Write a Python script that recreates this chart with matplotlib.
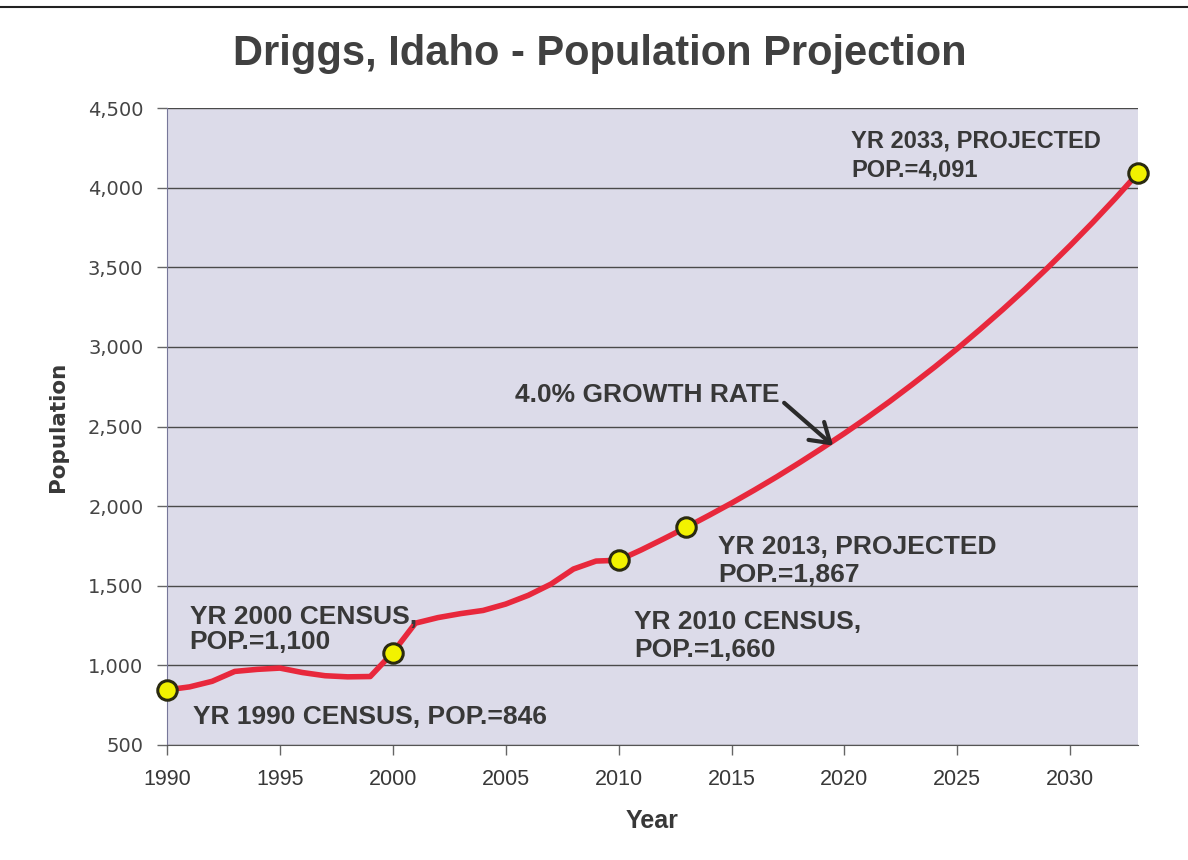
import matplotlib
matplotlib.use("Agg")
import matplotlib.pyplot as plt
from matplotlib.lines import Line2D

# ---- data ----
years = [1990, 1991, 1992, 1993, 1994, 1995, 1996, 1997, 1998, 1999,
         2000, 2001, 2002, 2003, 2004, 2005, 2006, 2007, 2008, 2009,
         2010, 2011, 2012, 2013, 2014, 2015, 2016, 2017, 2018, 2019,
         2020, 2021, 2022, 2023, 2024, 2025, 2026, 2027, 2028, 2029,
         2030, 2031, 2032, 2033]
population = [846, 865, 900, 962, 975, 983, 955, 935, 928, 930,
              1080, 1265, 1300, 1325, 1345, 1385, 1440, 1510, 1605, 1655,
              1660, 1725, 1795, 1867, 1942, 2019, 2100, 2184, 2272, 2363,
              2457, 2555, 2657, 2764, 2874, 2989, 3109, 3233, 3362, 3497,
              3637, 3782, 3933, 4091]
marker_years = [1990, 2000, 2010, 2013, 2033]
marker_pops = [846, 1080, 1660, 1867, 4091]
x_ticks = [1990, 1995, 2000, 2005, 2010, 2015, 2020, 2025, 2030]
y_ticks = [500, 1000, 1500, 2000, 2500, 3000, 3500, 4000, 4500]
y_tick_labels = ["500", "1,000", "1,500", "2,000", "2,500", "3,000", "3,500", "4,000", "4,500"]

title = "Driggs, Idaho - Population Projection"
annotations = [
    ("YR 2033, PROJECTED\nPOP.=4,091", 2020.3, 4200, 17, 1.32),
    ("YR 2013, PROJECTED\nPOP.=1,867", 2014.4, 1655, 19, 1.2),
    ("YR 2010 CENSUS,\nPOP.=1,660", 2010.7, 1185, 19, 1.17),
    ("YR 2000 CENSUS,\nPOP.=1,100", 1991.0, 1225, 19, 1.1),
    ("YR 1990 CENSUS, POP.=846", 1991.15, 676, 19, 1.1),
]

TXT = "#383838"
SANS = ["Liberation Sans", "DejaVu Sans"]

fig = plt.figure(figsize=(11.88, 8.60), dpi=100, facecolor="white")
ax = fig.add_axes([167/1188, 1 - 745/860, 971/1188, 637/860])
ax.set_facecolor("#dcdbe9")

ax.set_xlim(1990, 2033)
ax.set_ylim(500, 4500)
ax.set_xticks(x_ticks)
ax.set_xticklabels([str(v) for v in x_ticks], fontfamily=SANS, fontsize=15.5, color=TXT)
ax.set_yticks(y_ticks)
ax.set_yticklabels(y_tick_labels, fontfamily="DejaVu Sans", fontsize=14, color="#444444")
ax.tick_params(axis="both", direction="out", length=7, width=1, color="#666666")
ax.tick_params(axis="x", pad=10)
ax.tick_params(axis="y", pad=10)

ax.grid(axis="y", color="#4a4a4a", linewidth=1.0)
ax.set_axisbelow(True)
for s in ["top", "right"]:
    ax.spines[s].set_visible(False)
ax.spines["left"].set_color("#777799")
ax.spines["bottom"].set_color("#555555")

ax.plot(years, population, color="#e8283c", linewidth=4, solid_joinstyle="round",
        solid_capstyle="round", zorder=3)
ax.plot(marker_years, marker_pops, linestyle="none", marker="o", markersize=14,
        markerfacecolor="#f2f200", markeredgecolor="#2a2a10", markeredgewidth=2.2,
        zorder=4, clip_on=False)

for txt, x, y, fs, ls in annotations:
    ax.text(x, y, txt, fontfamily=SANS, fontweight="bold", fontsize=fs,
            color=TXT, ha="left", va="center", linespacing=ls, zorder=5)

ax.annotate("4.0% GROWTH RATE", xy=(2019.5, 2380), xytext=(2005.4, 2698),
            fontfamily=SANS, fontweight="bold", fontsize=19, color=TXT,
            ha="left", va="center", zorder=5,
            arrowprops=dict(arrowstyle="->,head_length=0.7,head_width=0.45",
                            color="#2a2a2a", lw=3, shrinkA=2, shrinkB=0,
                            relpos=(1.0, 0.35)))

ax.set_xlabel("Year", fontfamily=SANS, fontweight="bold", fontsize=18, color=TXT, labelpad=14)
ax.set_ylabel("Population", fontfamily="DejaVu Sans", fontweight="bold", fontsize=15.5,
              color=TXT, labelpad=14)

fig.text(600/1188, 1 - 54/860, title, fontfamily=SANS, fontweight="bold", fontsize=30,
         color="#404040", ha="center", va="center")

fig.add_artist(Line2D([0, 1], [1 - 7/860, 1 - 7/860], color="#222222", linewidth=1.5,
                      transform=fig.transFigure))

fig.savefig("out.png", dpi=100, facecolor="white")
